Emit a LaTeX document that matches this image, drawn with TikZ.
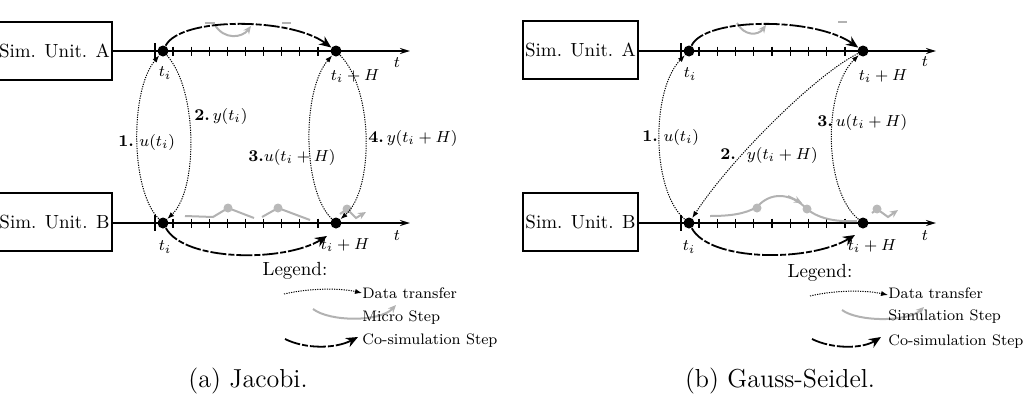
\documentclass[tikz,border=0pt]{standalone}
\usetikzlibrary{arrows.meta}
\begin{document}
\begin{tikzpicture}[x=0.5pt,y=-0.5pt,
  unitbox/.style={draw,line width=0.9pt,minimum width=57.5pt,minimum height=29pt,inner sep=0pt,font=\fontsize{9.5}{11}\selectfont},
  axis/.style={line width=0.9pt,-{Stealth[length=5pt,width=3pt]}},
  dot/.style={circle,fill=black,inner sep=0pt,minimum size=5.5pt},
  gdot/.style={circle,fill=gray!55,inner sep=0pt,minimum size=4.5pt},
  cosim/.style={line width=0.9pt,dash pattern=on 8pt off 1pt on 3pt off 1pt,-{Stealth[length=6pt,width=5pt]}},
  data/.style={line width=0.5pt,dash pattern=on 0.6pt off 0.6pt,-{Latex[length=3.5pt,width=2.6pt]}},
  micro/.style={gray!60,line width=1pt,-{Stealth[length=4pt,width=3.5pt]}},
  microline/.style={gray!60,line width=1pt},
  bigtick/.style={line width=0.8pt},
  smalltick/.style={line width=0.6pt},
  lbl/.style={inner sep=0pt,font=\fontsize{8.5}{10}\selectfont},
  dlbl/.style={inner sep=0pt,anchor=west,font=\fontsize{8.2}{10}\selectfont},
  leg/.style={inner sep=0pt,anchor=west,font=\fontsize{7.6}{9}\selectfont},
  legtitle/.style={inner sep=0pt,font=\fontsize{9.5}{11}\selectfont},
  capt/.style={inner sep=0pt,font=\fontsize{13}{15}\selectfont}]
\useasboundingbox (0,0) rectangle (1033,413);

% ================= (a) Jacobi =================
\node[unitbox] (jboxA) at (54.5,51) {Sim. Unit. A};
\node[unitbox] (jboxB) at (54.5,222) {Sim. Unit. B};
\coordinate (jendA) at (410,51);
\coordinate (jendB) at (410,223);
\draw[axis] (jboxA.east |- 0,51) -- (jendA);
\draw[axis] (jboxB.east |- 0,223) -- (jendB);
\draw[bigtick] (155,43) -- (155,59);
\draw[bigtick] (155,215) -- (155,231);
\foreach \k in {0,...,8} {
  \draw[smalltick] (173+18.125*\k,46.5) -- (173+18.125*\k,56);
  \draw[smalltick] (173+18.125*\k,218.5) -- (173+18.125*\k,228);
}
% gray micro steps
\draw[microline] (205,23) -- (215,23);
\draw[micro] (215,25) .. controls (224,40) and (242,38) .. (251,26);
\draw[microline] (282,23) -- (291,23);
\draw[microline] (185,216) -- (213,217) -- (228,208) -- (254,218);
\draw[microline] (262,217) -- (278,208) -- (310,220);
\draw[micro] (340,214) -- (347,209) -- (356,218) -- (366,212);
\node[gdot] (jg1) at (228,208) {};
\node[gdot] (jg2) at (278,208) {};
\node[gdot] (jg3) at (347,209) {};

\node[dot] (jA1) at (163,51) {};
\node[dot] (jA2) at (336,51) {};
\node[dot] (jB1) at (163,223) {};
\node[dot] (jB2) at (336,223) {};

\node[lbl] (jtiA) at (165,73) {$t_i$};
\node[lbl] (jtiHA) at (355,76) {$t_i+H$};
\node[lbl] (jtA) at (397,63) {$t$};
\node[lbl] (jtiB) at (165,247) {$t_i$};
\node[lbl] (jtiHB) at (345,245) {$t_i+H$};
\node[lbl] (jtB) at (397,236) {$t$};

\draw[cosim] (jA1) .. controls (180,17) and (290,17) .. (jA2);
\coordinate (jBend) at (327,236);
\draw[cosim] (jB1) .. controls (185,262) and (285,262) .. (jBend);

\draw[data] (jB1) .. controls (130,190) and (130,90) .. (jA1);
\draw[data] (jA1) .. controls (198,90) and (198,190) .. (jB1);
\draw[data] (jB2) .. controls (302,190) and (302,90) .. (jA2);
\draw[data] (jA2) .. controls (374,90) and (374,190) .. (jB2);

\node[dlbl] (jl1) at (118,142) {\textbf{1.}\,\,$u(t_i)$};
\node[dlbl] (jl2) at (194,116) {\textbf{2.}\,$y(t_i)$};
\node[dlbl] (jl3) at (248,157) {\textbf{3.}$u(t_i+H)$};
\node[dlbl] (jl4) at (368,138) {\textbf{4.}\,$y(t_i+H)$};

% legend (a)
\node[legtitle] (jleg) at (295,271) {Legend:};
\coordinate (jd1) at (284,294);
\coordinate (jd2) at (362,293);
\draw[data] (jd1) .. controls (310,288) and (340,288) .. (jd2);
\coordinate (jm1) at (313,309);
\coordinate (jm2) at (396,305);
\draw[micro] (jm1) .. controls (330,322) and (380,322) .. (jm2);
\coordinate (jc1) at (285,339);
\coordinate (jc2) at (358,337);
\draw[cosim] (jc1) .. controls (305,349) and (335,349) .. (jc2);
\node[leg] (jt1) at (362,293) {Data transfer};
\node[leg] (jt2) at (362,318) {Micro Step};
\node[leg] (jt3) at (362,341) {Co-simulation Step};

\node[capt] (jcap) at (248,381) {(a) Jacobi.};

% ================= (b) Gauss-Seidel =================
\node[unitbox] (gboxA) at (580.5,50) {Sim. Unit. A};
\node[unitbox] (gboxB) at (580.5,222) {Sim. Unit. B};
\coordinate (gendA) at (936,51);
\coordinate (gendB) at (936,223);
\draw[axis] (gboxA.east |- 0,51) -- (gendA);
\draw[axis] (gboxB.east |- 0,223) -- (gendB);
\draw[bigtick] (681,43) -- (681,59);
\draw[bigtick] (681,215) -- (681,231);
\foreach \k in {0,...,8} {
  \draw[smalltick] (699+18.25*\k,46.5) -- (699+18.25*\k,56);
  \draw[smalltick] (699+18.25*\k,218.5) -- (699+18.25*\k,228);
}
% gray simulation steps
\draw[micro] (737,23) .. controls (744,36) and (758,36) .. (766,25);
\draw[microline] (838,22) -- (847,22);
\draw[microline] (710,216) .. controls (730,216) and (745,214) .. (757,207);
\draw[microline] (757,207) .. controls (770,192) and (790,192) .. (807,209);
\draw[micro] (788,196) -- (802,203);
\draw[microline] (807,209) .. controls (820,220) and (840,222) .. (857,221);
\draw[micro] (872,213) -- (877,209) -- (888,217) -- (898,210);
\node[gdot] (gg1) at (757,208) {};
\node[gdot] (gg2) at (807,209) {};
\node[gdot] (gg3) at (877,209) {};

\node[dot] (gA1) at (689,51) {};
\node[dot] (gA2) at (863,51) {};
\node[dot] (gB1) at (689,223) {};
\node[dot] (gB2) at (863,223) {};

\node[lbl] (gtiA) at (690,74) {$t_i$};
\node[lbl] (gtiHA) at (883,76) {$t_i+H$};
\node[lbl] (gtA) at (925,62) {$t$};
\node[lbl] (gtiB) at (689,247) {$t_i$};
\node[lbl] (gtiHB) at (872,246) {$t_i+H$};
\node[lbl] (gtB) at (925,236) {$t$};

\draw[cosim] (gA1) .. controls (705,17) and (815,17) .. (gA2);
\coordinate (gBend) at (855,235);
\draw[cosim] (gB1) .. controls (710,262) and (810,262) .. (gBend);

\draw[data] (gB1) .. controls (651,190) and (651,90) .. (gA1);
\draw[data] (gA2) .. controls (815,75) and (730,160) .. (gB1);
\draw[data] (gB2) .. controls (823,190) and (823,90) .. (gA2);

\node[dlbl] (gl1) at (642,137) {\textbf{1.}\,\,$u(t_i)$};
\node[dlbl] (gl2) at (720,155) {\textbf{2.}\,\,\,\,$y(t_i+H)$};
\node[dlbl] (gl3) at (817,122) {\textbf{3.}\,$u(t_i+H)$};

% legend (b)
\node[legtitle] (gleg) at (820,273) {Legend:};
\coordinate (gd1) at (810,296);
\coordinate (gd2) at (888,295);
\draw[data] (gd1) .. controls (835,290) and (865,290) .. (gd2);
\coordinate (gm1) at (842,310);
\coordinate (gm2) at (924,307);
\draw[micro] (gm1) .. controls (858,322) and (908,322) .. (gm2);
\coordinate (gc1) at (812,339);
\coordinate (gc2) at (881,337);
\draw[cosim] (gc1) .. controls (832,349) and (862,349) .. (gc2);
\node[leg] (gt1) at (888,293) {Data transfer};
\node[leg] (gt2) at (888,317) {Simulation Step};
\node[leg] (gt3) at (888,342) {Co-simulation Step};

\node[capt] (gcap) at (780,381) {(b) Gauss-Seidel.};
\end{tikzpicture}
\end{document}
